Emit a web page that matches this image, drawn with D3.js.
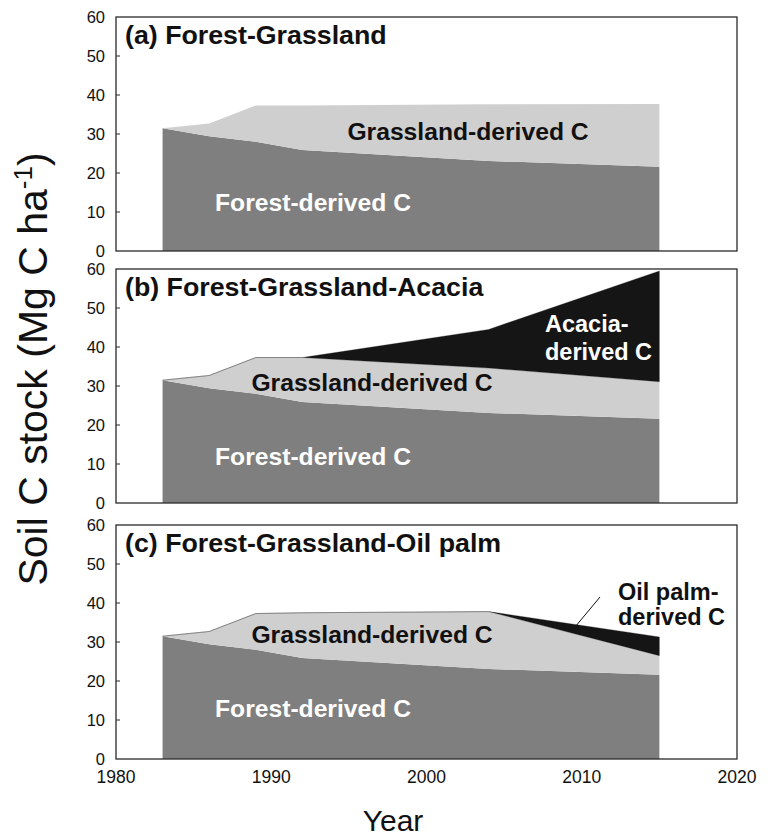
<!DOCTYPE html>
<html>
<head>
<meta charset="utf-8">
<script src="https://cdn.jsdelivr.net/npm/d3@7"></script>
<style>
  html, body { margin: 0; padding: 0; background: #fff; }
  svg { display: block; }
  text { font-family: "Liberation Sans", Arial, Helvetica, sans-serif; }
</style>
</head>
<body>
<svg id="chart" width="770" height="839"></svg>
<script>
// Sampling years of the chronosequence
const years = [1983, 1986, 1989, 1992, 2004, 2015];

// Soil C pools (Mg C ha-1), stacked from the bottom up
const forestC   = [31.5, 29.4, 28.0, 25.9, 23.1, 21.6];
const grassA    = [0, 3.3, 9.3, 11.4, 14.5, 16.1];
const grassB    = [0, 3.3, 9.3, 11.4, 11.5, 9.5];
const acaciaB   = [0, 0, 0, 0, 9.9, 28.4];
const grassC    = [0, 3.3, 9.3, 11.6, 14.7, 4.9];
const oilPalmC  = [0, 0, 0, 0, 0, 4.8];

const yTicks = [0, 10, 20, 30, 40, 50, 60];
const xTicks = [1980, 1990, 2000, 2010, 2020];

const panelTitles = [
  "(a) Forest-Grassland",
  "(b) Forest-Grassland-Acacia",
  "(c) Forest-Grassland-Oil palm"
];

const colors = { forest: "#7f7f7f", grass: "#cfcfcf", tree: "#151515" };

// Panel definitions built from the arrays above
const panels = [
  { title: panelTitles[0], layers: [
      { key: "forest", values: forestC },
      { key: "grass",  values: grassA } ] },
  { title: panelTitles[1], layers: [
      { key: "forest", values: forestC },
      { key: "grass",  values: grassB },
      { key: "tree",   values: acaciaB } ] },
  { title: panelTitles[2], layers: [
      { key: "forest", values: forestC },
      { key: "grass",  values: grassC },
      { key: "tree",   values: oilPalmC } ] }
];

const svg = d3.select("#chart");
const left = 116, right = 737;
const panelTops = [17, 269, 525];
const panelH = 234;

const x = d3.scaleLinear().domain([1980, 2020]).range([left, right]);

// Text helper with a horizontal stretch factor
function stretchText(g, str, px, py, size, weight, sx, anchor, fill) {
  return g.append("text")
    .attr("transform", `translate(${px},${py}) scale(${sx},1)`)
    .attr("text-anchor", anchor || "start")
    .attr("font-size", size)
    .attr("font-weight", weight)
    .attr("fill", fill || "#111")
    .text(str);
}

panels.forEach((p, i) => {
  const top = panelTops[i];
  const y = d3.scaleLinear().domain([0, 60]).range([top + panelH, top]);
  const g = svg.append("g");

  // stacked areas
  const rows = years.map((yr, j) => {
    const r = { year: yr };
    p.layers.forEach(l => { r[l.key] = l.values[j]; });
    return r;
  });
  const stack = d3.stack().keys(p.layers.map(l => l.key));
  const series = stack(rows);
  const area = d3.area()
    .x(d => x(d.data.year))
    .y0(d => y(d[0]))
    .y1(d => y(d[1]));

  g.selectAll("path.layer")
    .data(series)
    .join("path")
    .attr("class", "layer")
    .attr("d", area)
    .attr("fill", d => colors[d.key])
    .attr("stroke", d => d.key === "tree" ? colors.tree : "none")
    .attr("stroke-width", d => d.key === "tree" ? 0.8 : 0)
    .attr("stroke-opacity", 0.35);

  // frame
  g.append("rect")
    .attr("x", left).attr("y", top)
    .attr("width", right - left).attr("height", panelH)
    .attr("fill", "none").attr("stroke", "#2a2a2a").attr("stroke-width", 1.3);

  // y axis ticks (inward) and labels
  g.selectAll("line.ytick")
    .data(yTicks.slice(1, -1))
    .join("line")
    .attr("x1", left).attr("x2", left + 4)
    .attr("y1", d => y(d)).attr("y2", d => y(d))
    .attr("stroke", "#2a2a2a").attr("stroke-width", 1);

  g.selectAll("text.ylab")
    .data(yTicks)
    .join("text")
    .attr("class", "ylab")
    .attr("x", left - 11)
    .attr("y", d => y(d))
    .attr("dy", "0.36em")
    .attr("text-anchor", "end")
    .attr("font-size", 16.5)
    .attr("fill", "#111")
    .text(d => d);

  // panel title
  stretchText(g, p.title, 125, top + 27, 25.5, "bold", 1.05, "start");
});

// in-panel annotations
const ann = svg.append("g");
// (a)
stretchText(ann, "Grassland-derived C", 468, 139.5, 23.5, "bold", 1.05, "middle");
stretchText(ann, "Forest-derived C", 313, 210.5, 23.5, "bold", 1.05, "middle", "#fff");
// (b)
stretchText(ann, "Acacia-", 545, 332, 23.5, "bold", 1.0, "start", "#fff");
stretchText(ann, "derived C", 545, 360, 23.5, "bold", 1.0, "start", "#fff");
stretchText(ann, "Grassland-derived C", 372, 391, 23.5, "bold", 1.05, "middle");
stretchText(ann, "Forest-derived C", 313, 465, 23.5, "bold", 1.05, "middle", "#fff");
// (c)
stretchText(ann, "Oil palm-", 618, 600, 23.5, "bold", 1.0, "start");
stretchText(ann, "derived C", 618, 625, 23.5, "bold", 1.0, "start");
stretchText(ann, "Grassland-derived C", 372, 643, 23.5, "bold", 1.05, "middle");
stretchText(ann, "Forest-derived C", 313, 717, 23.5, "bold", 1.05, "middle", "#fff");
// leader line to the oil palm wedge
ann.append("line")
  .attr("x1", 575).attr("y1", 627)
  .attr("x2", 600).attr("y2", 597)
  .attr("stroke", "#111").attr("stroke-width", 1);

// x axis tick labels under the bottom panel
svg.append("g").selectAll("text")
  .data(xTicks)
  .join("text")
  .attr("x", d => x(d))
  .attr("y", 783)
  .attr("text-anchor", "middle")
  .attr("font-size", 17.5)
  .attr("fill", "#111")
  .text(d => d);

// axis titles
svg.append("text")
  .attr("x", 393).attr("y", 831)
  .attr("text-anchor", "middle")
  .attr("font-size", 30)
  .attr("fill", "#111")
  .text("Year");

const yTitle = svg.append("text")
  .attr("transform", "translate(47,369) rotate(-90)")
  .attr("text-anchor", "middle")
  .attr("font-size", 41)
  .attr("fill", "#111");
yTitle.append("tspan").text("Soil C stock (Mg C ha");
yTitle.append("tspan").attr("font-size", 26).attr("dy", -15).text("-1");
yTitle.append("tspan").attr("dy", 15).text(")");
</script>
</body>
</html>
